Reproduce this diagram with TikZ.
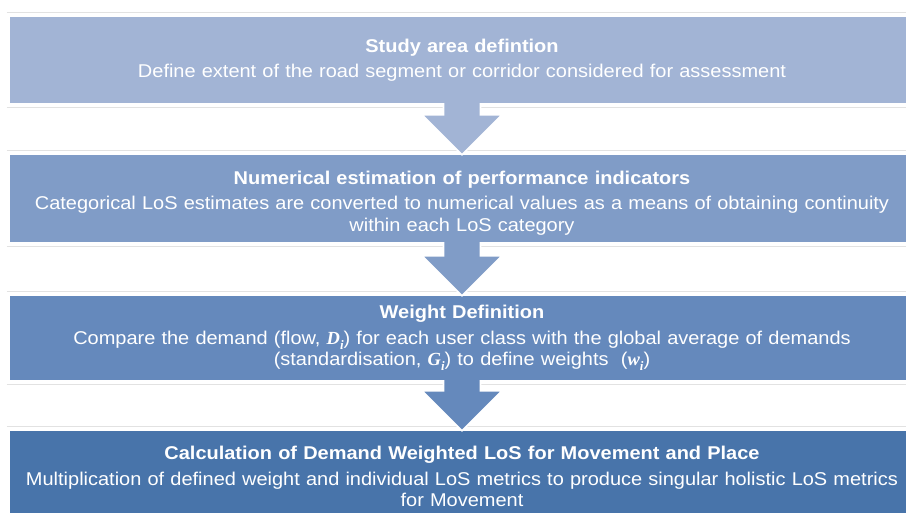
\documentclass[tikz,border=0pt]{standalone}
\usepackage{fontspec}
\setmainfont{Liberation Sans}[FakeStretch=1.08]
\newfontfamily\symbolserif{Liberation Serif}
\usetikzlibrary{calc}

\definecolor{stageA}{HTML}{A2B4D5}
\definecolor{stageB}{HTML}{809CC7}
\definecolor{stageC}{HTML}{6589BC}
\definecolor{stageD}{HTML}{4874AA}
\definecolor{rulegray}{HTML}{E2E2E2}

% bold italic serif variable with a subscript
\newcommand\symvar[2]{{\symbolserif\bfseries\itshape #1\raisebox{-0.28em}{\fontsize{13}{13}\selectfont #2}}}

\tikzset{
  stagebox/.style={rectangle, inner sep=0pt, minimum width=904pt,
    text width=880pt, align=center, text=white,
    font=\fontsize{18.5}{21.5}\selectfont},
  edgerule/.style={draw=rulegray, line width=1.2pt},
  arrowrim/.style={draw=white, line width=1.6pt, line join=miter}
}

% block arrow from the bottom of one stage to the top of the next
\newcommand\stagearrow[3]{%
  \fill[#3] ($(#1.south)+(-18.5,-1)$) -- ($(#2.north)+(-18.5,-40)$)
    -- ($(#2.north)+(-40,-40)$) -- (#2.north) -- ($(#2.north)+(40,-40)$)
    -- ($(#2.north)+(18.5,-40)$) -- ($(#1.south)+(18.5,-1)$) -- cycle;
  \draw[arrowrim] ($(#1.south)+(-18.5,0)$) -- ($(#2.north)+(-18.5,-40)$)
    -- ($(#2.north)+(-40,-40)$) -- (#2.north) -- ($(#2.north)+(40,-40)$)
    -- ($(#2.north)+(18.5,-40)$) -- ($(#1.south)+(18.5,0)$);
}

% thin light rules just above and below a stage
\newcommand\stagerules[1]{%
  \draw[edgerule] ($(#1.north west)+(-3,-4.5)$) -- ($(#1.north east)+(0,-4.5)$);
  \draw[edgerule] ($(#1.south west)+(-3,4.5)$) -- ($(#1.south east)+(0,4.5)$);
}

\begin{document}
\begin{tikzpicture}[x=1pt, y=-1pt]
  \useasboundingbox (0,0) rectangle (906,512);
  \fill[white] (0,0) rectangle (906,512);
  \clip (0,0) rectangle (906,512);

  \node[stagebox, fill=stageA, minimum height=86pt] (s1) at (462,60)
    {\textbf{Study area defintion}\\[4pt]
     Define extent of the road segment or corridor considered for assessment};

  \node[stagebox, fill=stageB, minimum height=87pt] (s2) at (462,198.5)
    {\rule{0pt}{22pt}\textbf{Numerical estimation of performance indicators}\\[4pt]
     Categorical LoS estimates are converted to numerical values as a means of obtaining continuity\\
     within each LoS category};

  \node[stagebox, fill=stageC, minimum height=84pt] (s3) at (462,338)
    {\textbf{Weight Definition}\\[4pt]
     Compare the demand (flow, \symvar{D}{i}) for each user class with the global average of demands\\
     (standardisation, \symvar{G}{i}) to define weights~ (\symvar{w}{i})};

  \node[stagebox, fill=stageD, minimum height=91pt] (s4) at (462,476.5)
    {\textbf{Calculation of Demand Weighted LoS for Movement and Place}\\[4pt]
     Multiplication of defined weight and individual LoS metrics to produce singular holistic LoS metrics\\
     for Movement};

  \stagerules{s1}
  \stagerules{s2}
  \stagerules{s3}
  \stagerules{s4}

  \stagearrow{s1}{s2}{stageA}
  \stagearrow{s2}{s3}{stageB}
  \stagearrow{s3}{s4}{stageC}
\end{tikzpicture}
\end{document}
